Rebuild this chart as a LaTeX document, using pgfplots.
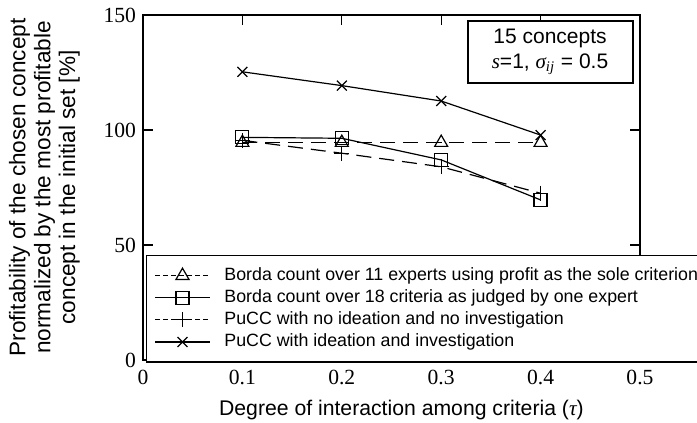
\documentclass[border=0pt]{standalone}
\usepackage{fontspec}
\setmainfont{Liberation Sans}
\newfontfamily\timesf{Liberation Serif}
\usepackage{pgfplots}
\pgfplotsset{compat=1.18}

\begin{document}
\begin{tikzpicture}
\begin{axis}[
scale only axis,
width=248.5pt, height=172.5pt,
xmin=0, xmax=0.5, ymin=0, ymax=150,
xtick={0,0.1,0.2,0.3,0.4,0.5},
xticklabels={0,0.1,0.2,0.3,0.4,0.5},
ytick={0,50,100,150},
major tick length=5pt,
tick style={line width=0.6pt, black},
axis line style={line width=0.8pt},
tick label style={font=\timesf\fontsize{10.8}{12}\selectfont},
/pgf/number format/assume math mode=true,
xticklabel style={yshift=-1.5pt},
xlabel={Degree of interaction among criteria ({\timesf\itshape τ})},
ylabel={Profitability of the chosen concept\\normalized by the most profitable\\concept in the initial set [\%]},
xlabel style={font=\fontsize{10.6}{13}\selectfont, at={(axis description cs:0.52,-0.097)}, anchor=north},
ylabel style={font=\fontsize{11.3}{12.4}\selectfont, align=center, at={(axis description cs:-0.113,0.5)}, anchor=south},
every axis plot/.append style={black, line width=0.6pt},
legend image code/.code={\draw[mark repeat=2, mark phase=2, #1] plot coordinates {(0cm,0cm) (0.48cm,0cm) (0.96cm,0cm)};},
legend style={at={(axis description cs:0.006,0.304)}, anchor=north west,
  draw=black, line width=0.6pt, inner sep=4pt,
  font=\fontsize{8.9}{10}\selectfont, cells={anchor=west}, row sep=-0.9pt,
  /tikz/every odd column/.append style={column sep=5pt}},
]
\addplot[dash pattern=on 7.5pt off 4pt, mark=triangle, mark size=3.75pt, mark options={solid},
  legend image post style={dash pattern=on 2.5pt off 1.5pt}]
  coordinates {(0.1,94.5) (0.2,94.5) (0.3,94.5) (0.4,94.5)};
\addplot[mark=square, mark size=3.25pt]
  coordinates {(0.1,96.8) (0.2,96.4) (0.3,87) (0.4,69.6)};
\addplot[dash pattern=on 7.5pt off 4pt, mark=+, mark size=3.75pt, mark options={solid},
  legend image post style={dash pattern=on 2.5pt off 1.5pt}]
  coordinates {(0.1,95.5) (0.2,89.9) (0.3,84) (0.4,72.5)};
\addplot[mark=x, mark size=3.5pt]
  coordinates {(0.1,125.3) (0.2,119.3) (0.3,112.6) (0.4,97.8)};
\legend{Borda count over 11 experts using profit as the sole criterion,
Borda count over 18 criteria as judged by one expert,
PuCC with no ideation and no investigation,
PuCC with ideation and investigation}
\node[draw, line width=1pt, fill=white, align=center, minimum width=82.5pt, minimum height=31pt,
  font=\fontsize{10.5}{12.5}\selectfont] at (axis cs:0.4095,133.9)
  {15 concepts\\{\timesf\itshape s}=1, {\timesf\itshape σ\textsubscript{ij}} = 0.5};
\end{axis}
\pgfresetboundingbox
\path ([shift={(-71.5pt,-31.5pt)}]current axis.south west) rectangle ([shift={(277pt,180pt)}]current axis.south west);
\end{tikzpicture}
\end{document}
